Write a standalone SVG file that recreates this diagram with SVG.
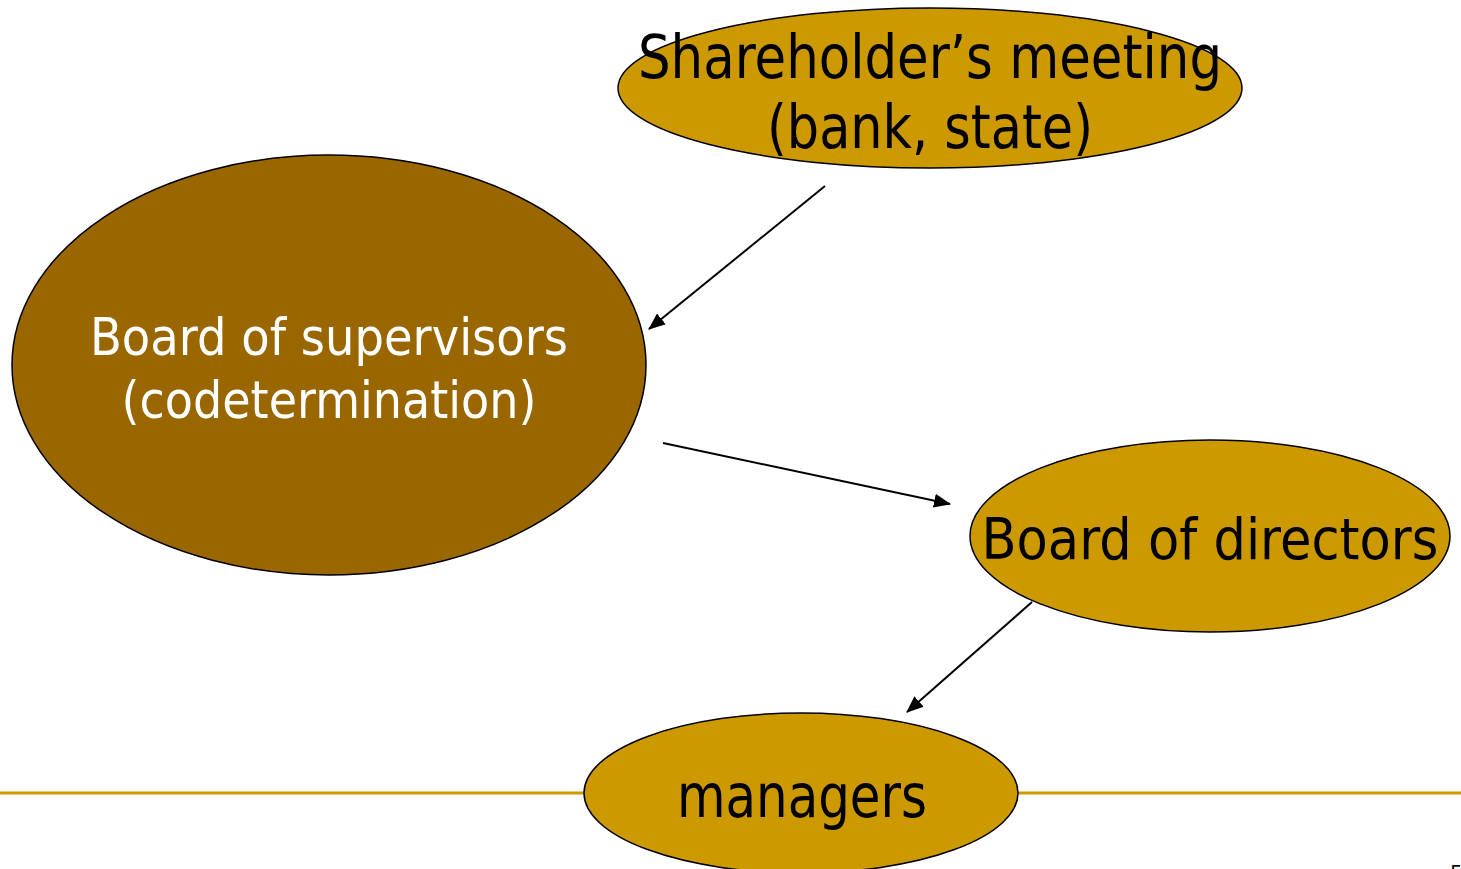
<svg xmlns="http://www.w3.org/2000/svg" width="1461" height="869" viewBox="0 0 1461 869">
<defs>
<marker id="arr" viewBox="0 0 17 14" refX="16" refY="7" markerWidth="17" markerHeight="14" markerUnits="userSpaceOnUse" orient="auto">
<path d="M0,0 L17,7 L0,14 Z" fill="#000"/>
</marker>
<style>
.node{stroke:#000;stroke-width:1.5}
.gold{fill:#CC9900}
.brown{fill:#996600}
.t{font-family:"DejaVu Sans","Verdana",sans-serif;text-anchor:middle}
.conn line{stroke:#000;stroke-width:2;marker-end:url(#arr)}
</style>
</defs>
<rect width="1461" height="869" fill="#fff"/>
<line x1="0" y1="793" x2="1461" y2="793" stroke="#CC9900" stroke-width="3"/>
<g id="shareholders">
<ellipse class="node gold" cx="930" cy="88" rx="312" ry="80"/>
<text class="t" x="930" y="78" font-size="60" textLength="584" lengthAdjust="spacingAndGlyphs">Shareholder’s meeting</text>
<text class="t" x="930" y="148" font-size="60" textLength="326" lengthAdjust="spacingAndGlyphs">(bank, state)</text>
</g>
<g id="supervisors">
<ellipse class="node brown" cx="329" cy="365" rx="317" ry="210"/>
<text class="t" x="329" y="355" font-size="51" fill="#fff" textLength="478" lengthAdjust="spacingAndGlyphs">Board of supervisors</text>
<text class="t" x="329" y="418" font-size="51" fill="#fff" textLength="415" lengthAdjust="spacingAndGlyphs">(codetermination)</text>
</g>
<g id="directors">
<ellipse class="node gold" cx="1210" cy="536" rx="240" ry="96"/>
<text class="t" x="1210" y="559" font-size="57" textLength="457" lengthAdjust="spacingAndGlyphs">Board of directors</text>
</g>
<g id="managers">
<ellipse class="node gold" cx="801" cy="793" rx="217" ry="80"/>
<text class="t" x="802" y="817" font-size="60" textLength="250" lengthAdjust="spacingAndGlyphs">managers</text>
</g>
<g id="connectors" class="conn">
<line x1="825" y1="186" x2="649" y2="329"/>
<line x1="663" y1="443" x2="950" y2="504"/>
<line x1="1032" y1="602" x2="907" y2="712"/>
</g>
<text x="1450" y="879" font-family="DejaVu Sans, sans-serif" font-size="20">5</text>
</svg>
